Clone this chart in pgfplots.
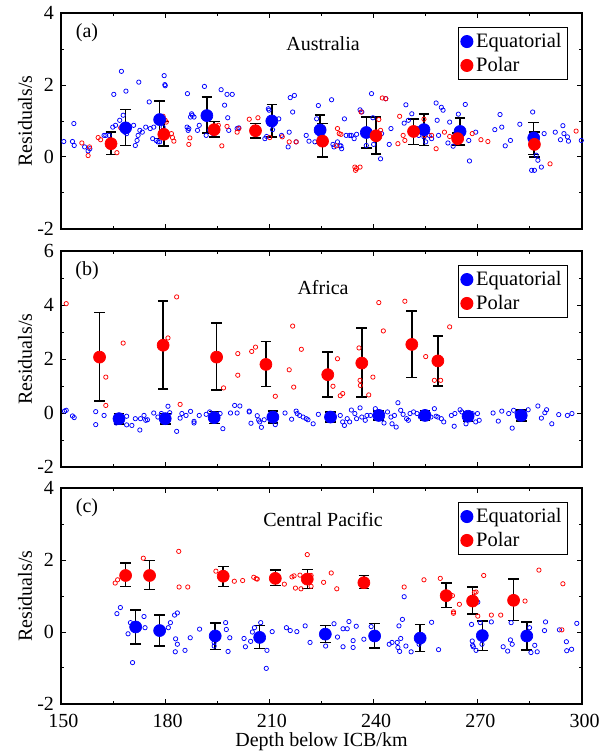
\documentclass[border=0pt]{standalone}
\usepackage{fontspec}
\setmainfont{Liberation Serif}
\usepackage{pgfplots}
\usepackage{pgfplotstable}
\pgfplotsset{compat=1.18}

% ---------- Panel (a) Australia ----------
\pgfplotstableread{
x y
150.8 0.43
153.3 0.43
153.8 0.32
153.7 0.93
156.8 0.28
157.8 0.17
158.3 0.23
162.4 0.60
162.9 0.60
163.9 0.60
164.9 0.83
165.2 1.74
165.7 0.88
166.9 1.02
167.4 2.38
167.9 1.16
168.4 0.69
168.7 1.83
168.9 0.65
170.9 0.88
171.4 0.32
171.9 0.46
172.2 0.60
172.4 2.08
172.7 0.74
173.4 0.69
174.4 0.83
175.4 1.53
175.7 0.79
176.4 0.51
176.7 0.83
177.4 0.46
177.9 0.42
178.4 0.42
178.7 1.06
179.4 0.83
179.7 2.26
179.9 2.01
180.0 1.98
186.3 0.83
186.4 1.76
186.6 0.74
186.8 0.79
187.3 1.11
187.6 1.20
187.8 1.16
188.3 1.11
189.3 0.74
189.8 0.88
191.3 1.96
191.8 0.60
192.8 0.74
193.8 0.65
196.1 1.87
197.1 1.44
197.8 1.74
198.0 1.09
198.3 0.74
199.3 1.74
200.7 0.79
201.2 0.81
208.7 0.51
209.2 0.57
209.7 1.34
209.9 1.30
210.9 0.76
212.7 1.06
213.5 0.60
215.4 0.28
215.7 0.69
216.0 1.65
216.7 1.25
217.2 1.71
217.7 0.42
220.6 0.60
221.4 0.44
223.1 0.42
223.6 1.06
224.1 1.43
224.6 0.56
225.1 0.65
227.9 1.59
228.3 0.35
228.6 0.28
229.6 0.42
230.3 0.31
230.6 0.31
230.8 0.23
231.6 1.06
232.1 0.60
233.1 0.60
233.6 0.60
234.4 0.51
235.1 0.63
236.1 1.31
236.6 1.25
237.9 0.32
239.4 1.76
239.8 1.09
240.0 0.35
242.0 -0.05
242.3 0.65
243.5 1.62
244.5 0.35
245.0 0.79
248.8 0.94
249.3 1.45
250.0 1.02
251.0 1.20
252.5 0.79
253.0 0.60
254.5 0.56
255.0 0.42
256.0 0.60
256.7 0.51
258.0 1.50
258.3 1.02
258.7 0.60
259.5 1.38
260.0 1.30
261.4 0.39
261.9 0.97
262.9 0.30
263.4 0.60
264.4 1.19
265.4 0.65
266.4 1.46
267.4 0.46
267.6 -0.11
269.4 0.69
274.9 0.76
276.4 1.18
276.9 0.83
277.9 0.31
279.4 0.46
282.1 0.91
285.8 1.25
285.5 -0.37
286.3 -0.37
286.8 0.05
287.3 -0.09
288.3 -0.28
289.1 0.65
292.3 0.69
293.8 0.48
294.5 0.87
294.8 0.65
295.8 0.56
296.1 0.44
299.8 0.46
}\aEqSmall

\pgfplotstableread{
x y
156.0 0.39
157.8 0.04
158.2 0.28
160.7 0.54
161.4 0.48
166.1 0.12
167.2 0.81
179.4 1.13
180.0 1.02
180.3 0.97
181.8 0.65
182.1 0.54
182.5 0.44
186.8 0.35
187.1 0.53
195.3 0.88
196.3 0.31
197.8 0.85
200.7 0.69
201.2 0.79
204.2 1.05
206.7 1.09
209.9 0.94
210.1 0.54
213.7 0.56
215.7 0.42
217.7 0.42
225.6 0.79
229.3 0.31
229.6 0.79
230.1 0.65
230.6 0.63
234.6 -0.28
234.8 -0.37
235.1 -0.32
236.1 -0.28
236.4 1.25
241.5 1.04
242.0 0.74
242.5 1.64
243.5 1.62
247.0 0.37
247.5 1.13
248.5 0.60
249.0 0.46
254.5 1.05
254.7 0.60
256.7 0.60
258.0 0.23
260.4 0.69
261.9 0.57
268.4 0.65
270.9 0.48
272.9 0.43
290.8 -0.19
298.3 0.72
}\aPoSmall

\pgfplotstableread{
x y ep em
168.6 0.81 0.51 0.49
178.4 1.04 0.52 0.52
192.0 1.15 0.51 0.48
210.7 1.00 0.46 0.44
224.6 0.75 0.42 0.38
237.9 0.68 0.43 0.43
254.5 0.76 0.43 0.44
264.9 0.71 0.38 0.37
286.1 0.53 0.43 0.46
}\aEqMean

\pgfplotstableread{
x y ep em
164.4 0.37 0.32 0.30
179.6 0.63 0.36 0.32
194.1 0.76 0.23 0.20
206.0 0.73 0.20 0.20
225.3 0.44 0.49 0.44
240.7 0.59 0.52 0.51
251.5 0.71 0.35 0.36
264.2 0.51 0.16 0.17
286.3 0.35 0.34 0.35
}\aPoMean

% ---------- Panel (b) Africa ----------
\pgfplotstableread{
x y
151.0 0.07
151.5 0.10
153.3 -0.11
153.8 -0.17
160.0 0.05
160.0 -0.43
162.4 -0.09
165.9 -0.37
168.9 -0.12
168.9 -0.44
170.4 -0.46
171.4 -0.21
172.7 -0.63
172.9 -0.21
173.9 -0.09
174.4 -0.27
174.9 -0.25
176.7 0.00
177.9 -0.15
178.9 -0.02
180.8 0.25
181.3 0.01
183.3 -0.68
184.3 -0.19
184.8 -0.02
186.0 -0.09
187.3 0.06
188.3 -0.31
188.3 -0.37
189.8 -0.09
191.8 -0.05
192.8 0.04
195.8 -0.02
196.6 -0.58
198.8 0.00
200.0 0.28
200.7 0.00
201.5 0.26
204.2 0.07
204.2 0.04
204.7 -0.38
206.5 -0.10
206.9 -0.26
207.2 -0.33
207.7 -0.53
208.5 -0.25
211.7 -0.43
214.5 0.00
216.4 -0.23
217.7 0.07
218.0 -0.02
218.7 -0.09
219.7 -0.15
220.6 -0.21
221.1 -0.25
222.6 -0.40
224.1 -0.05
226.6 -0.15
227.6 -0.27
228.6 -0.15
230.4 -0.09
231.1 -0.33
231.6 -0.46
232.4 -0.21
233.1 -0.33
233.6 0.11
234.6 -0.02
235.1 -0.21
236.1 0.19
236.6 -0.15
237.6 -0.27
238.1 -0.09
239.1 -0.09
240.5 0.16
241.5 -0.21
243.0 -0.37
244.0 0.04
245.0 -0.15
245.3 -0.40
246.0 -0.09
246.5 -0.52
247.0 0.38
247.8 0.10
248.5 -0.05
249.5 -0.21
250.0 -0.27
250.5 -0.02
251.5 0.04
252.5 -0.02
253.5 -0.15
254.5 -0.12
255.3 -0.02
256.5 -0.15
257.5 0.16
258.0 -0.12
258.5 -0.15
259.5 -0.21
260.2 -0.33
262.4 -0.09
263.2 -0.49
263.4 -0.02
264.9 0.12
265.4 0.04
266.6 -0.40
268.4 -0.02
269.4 -0.33
269.9 -0.02
270.4 -0.27
274.4 0.00
275.9 -0.30
276.9 0.07
278.9 -0.02
279.9 -0.56
280.3 0.10
281.3 -0.02
283.3 -0.19
284.5 0.12
287.3 0.26
288.3 -0.19
289.3 0.01
289.8 0.12
291.3 -0.40
293.3 -0.06
295.8 -0.09
297.1 -0.02
}\bEqSmall

\pgfplotstableread{
x y
151.5 4.05
162.9 1.33
162.9 0.28
167.9 2.59
180.8 2.78
183.3 4.30
184.3 0.32
196.8 0.93
200.9 2.20
200.9 1.40
204.9 2.28
206.0 2.44
211.7 0.62
215.7 1.60
216.7 3.22
217.0 0.96
219.2 2.36
228.3 0.99
229.6 2.01
230.4 0.64
231.1 0.72
235.8 2.41
236.1 1.21
236.2 1.02
238.6 0.67
239.8 1.33
241.5 4.09
242.8 3.04
249.0 4.14
255.0 2.09
257.5 1.21
259.3 1.21
261.9 3.19
}\bPoSmall

\pgfplotstableread{
x y ep em
166.7 -0.21 0.20 0.20
180.0 -0.21 0.20 0.20
194.1 -0.17 0.22 0.22
211.0 -0.15 0.22 0.22
227.6 -0.15 0.18 0.18
241.5 -0.09 0.17 0.17
254.8 -0.09 0.18 0.18
267.2 -0.12 0.17 0.17
282.5 -0.09 0.20 0.20
}\bEqMean

\pgfplotstableread{
x y ep em
161.1 2.07 1.65 1.63
179.4 2.51 1.63 1.63
194.8 2.07 1.26 1.21
209.0 1.80 0.84 0.81
226.8 1.42 0.84 0.83
236.6 1.85 1.30 1.26
251.0 2.54 1.24 1.23
258.5 1.93 0.92 0.93
}\bPoMean

% ---------- Panel (c) Central Pacific ----------
\pgfplotstableread{
x y
166.1 0.51
167.1 0.68
169.3 -0.05
170.0 0.26
170.6 -0.85
173.9 0.43
174.2 0.12
180.9 0.12
181.5 0.26
182.7 0.47
183.0 -0.19
183.5 0.53
183.5 -0.34
182.9 -0.55
185.7 -0.51
187.2 -0.16
189.9 0.08
194.1 -0.29
194.1 -0.39
197.4 0.26
197.6 0.07
198.1 -0.54
198.6 -0.16
202.7 -0.18
203.1 -0.41
204.6 -0.26
205.1 0.00
205.7 0.12
207.5 0.26
208.0 -0.16
209.3 -0.51
209.1 -1.01
210.8 0.01
214.9 0.12
216.0 0.04
217.9 0.01
220.3 0.17
221.7 -0.29
226.2 -0.39
228.6 0.23
229.6 -0.14
231.2 0.09
231.2 -0.41
232.4 0.09
232.9 0.29
234.1 -0.24
234.1 -0.43
235.0 0.16
237.2 -0.20
239.3 0.15
244.5 -0.34
245.3 -0.29
246.8 -0.29
247.0 -0.43
247.5 -0.54
247.8 -0.18
248.3 0.35
248.8 0.98
249.3 -0.39
247.3 0.17
250.8 -0.55
253.1 -0.34
256.7 0.27
258.7 -0.49
268.2 0.21
268.4 -0.25
268.5 -0.37
268.7 -0.41
269.5 -0.51
270.0 0.83
270.7 0.26
271.2 -0.34
273.9 0.28
277.3 -0.41
278.6 -0.53
279.4 -0.22
279.9 -0.34
279.6 0.26
284.9 0.12
285.3 -0.57
286.4 -0.37
287.1 -0.55
289.2 0.04
289.5 0.28
293.5 0.06
295.5 -0.27
295.6 -0.52
297.0 -0.48
298.5 0.24
}\cEqSmall

\pgfplotstableread{
x y
165.6 1.36
166.3 1.45
173.7 2.05
183.9 2.24
184.0 1.25
186.5 1.25
194.6 1.69
196.1 1.61
199.9 1.41
202.3 1.43
205.5 1.52
206.2 1.48
206.5 1.47
214.3 1.33
216.5 1.53
217.1 1.56
217.5 1.22
218.8 1.58
219.1 1.20
220.9 2.15
222.0 1.57
222.0 1.27
225.6 1.38
227.8 1.64
229.4 1.20
248.8 1.25
254.5 1.45
259.2 1.49
262.7 1.01
263.0 0.56
263.0 0.52
264.7 0.77
269.0 1.10
269.5 1.11
270.0 0.44
271.7 1.57
273.9 0.47
276.6 0.47
283.6 0.86
287.6 1.72
294.2 0.06
294.5 1.34
}\cPoSmall

\pgfplotstableread{
x y ep em
171.5 0.14 0.47 0.47
178.4 0.04 0.43 0.43
194.4 -0.11 0.36 0.38
207.2 -0.15 0.33 0.31
226.1 -0.06 0.24 0.23
240.3 -0.11 0.35 0.33
253.4 -0.17 0.38 0.37
271.3 -0.10 0.40 0.41
284.1 -0.11 0.39 0.39
}\cEqMean

\pgfplotstableread{
x y ep em
168.6 1.57 0.35 0.30
175.5 1.57 0.42 0.39
196.7 1.55 0.27 0.28
211.7 1.49 0.23 0.20
220.9 1.47 0.26 0.26
237.2 1.37 0.20 0.16
260.9 1.01 0.35 0.33
268.5 0.86 0.39 0.36
280.3 0.88 0.59 0.56
}\cPoMean

\pgfplotsset{
  panel/.style={
    scale only axis,
    width=312.6pt, height=129.6pt,
    anchor=south west,
    xmin=150, xmax=300,
    xtick={150,180,210,240,270,300},
    minor x tick num=1,
    minor y tick num=1,
    axis line style={line width=0.7pt},
    every tick/.style={black, line width=0.6pt},
    major tick length=3pt, minor tick length=2pt,
    /pgf/number format/assume math mode=true,
    x tick label style={yshift=-2pt, xshift=1.5pt},
    ylabel={Residuals/s},
    ylabel style={at={(axis description cs:-0.069,0.5)}, anchor=center},
    xlabel style={at={(axis description cs:0.5,-0.175)}, anchor=center},
    legend style={at={(0.973,0.937)}, anchor=north east, draw=black,
      line width=0.6pt, inner sep=1.5pt, row sep=0pt,
      font=\fontsize{12.3}{14.5}\selectfont,
      /tikz/every even column/.append style={column sep=2pt}},
    legend cell align=left,
  },
  small eq/.style={only marks, mark=o, mark size=1.3pt, color=blue,
    mark options={line width=0.45pt}, forget plot},
  small po/.style={only marks, mark=o, mark size=1.3pt, color=red,
    mark options={line width=0.45pt}, forget plot},
  mean/.style={only marks, mark=*, mark size=3.6pt,
    error bars/y dir=both, error bars/y explicit,
    error bars/error bar style={black, line width=0.9pt},
    error bars/error mark options={black, rotate=90, mark size=3.2pt, line width=0.9pt}},
}

\begin{document}
\fontsize{12}{14.4}\selectfont
\begin{tikzpicture}
\useasboundingbox (0,0) rectangle (369.6pt,453pt);

% (a)
\begin{axis}[panel, at={(36.6pt,315.6pt)},
  ymin=-2, ymax=4, ytick={-2,0,2,4}, xticklabels={}]
\addplot[small eq] table[x=x,y=y] {\aEqSmall};
\addplot[small po] table[x=x,y=y] {\aPoSmall};
\addplot[mean, color=blue, mark options={draw=blue, fill=blue}]
  table[x=x, y=y, y error plus=ep, y error minus=em] {\aEqMean};
\addlegendentry{Equatorial}
\addplot[mean, color=red, mark options={draw=red, fill=red}]
  table[x=x, y=y, y error plus=ep, y error minus=em] {\aPoMean};
\addlegendentry{Polar}
\node at (rel axis cs:0.05,0.907) {(a)};
\node at (rel axis cs:0.503,0.856) {Australia};
\end{axis}

% (b)
\begin{axis}[panel, at={(36.6pt,172.8pt)},
  ymin=-2, ymax=6, ytick={-2,0,2,4,6}, xticklabels={}]
\addplot[small eq] table[x=x,y=y] {\bEqSmall};
\addplot[small po] table[x=x,y=y] {\bPoSmall};
\addplot[mean, color=blue, mark options={draw=blue, fill=blue}]
  table[x=x, y=y, y error plus=ep, y error minus=em] {\bEqMean};
\addlegendentry{Equatorial}
\addplot[mean, color=red, mark options={draw=red, fill=red}]
  table[x=x, y=y, y error plus=ep, y error minus=em] {\bPoMean};
\addlegendentry{Polar}
\node at (rel axis cs:0.05,0.907) {(b)};
\node at (rel axis cs:0.503,0.833) {Africa};
\end{axis}

% (c)
\begin{axis}[panel, at={(36.6pt,30.6pt)},
  ymin=-2, ymax=4, ytick={-2,0,2,4},
  xlabel={Depth below ICB/km}]
\addplot[small eq] table[x=x,y=y] {\cEqSmall};
\addplot[small po] table[x=x,y=y] {\cPoSmall};
\addplot[mean, color=blue, mark options={draw=blue, fill=blue}]
  table[x=x, y=y, y error plus=ep, y error minus=em] {\cEqMean};
\addlegendentry{Equatorial}
\addplot[mean, color=red, mark options={draw=red, fill=red}]
  table[x=x, y=y, y error plus=ep, y error minus=em] {\cPoMean};
\addlegendentry{Polar}
\node at (rel axis cs:0.05,0.907) {(c)};
\node at (rel axis cs:0.503,0.856) {Central Pacific};
\end{axis}
\end{tikzpicture}
\end{document}
